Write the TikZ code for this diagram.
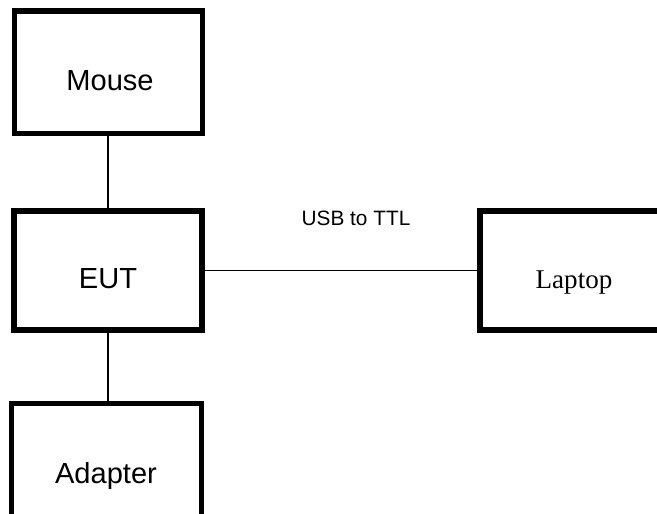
\documentclass[tikz,border=0pt]{standalone}
\usepackage{fontspec}
\setmainfont{Liberation Sans}
\newfontfamily\serifface{Liberation Serif}
\begin{document}
\begin{tikzpicture}[x=0.75pt,y=-0.75pt,
  box/.style={draw=black,line width=3.9pt,rectangle,inner sep=0pt,fill=white},
  conn/.style={draw=black,line width=1.1pt},
  lbl/.style={anchor=base,inner sep=0pt,font=\fontsize{21.8}{24}\selectfont}]
\useasboundingbox (0,0) rectangle (657,514);
\clip (0,0) rectangle (657,514);
\fill[white] (0,0) rectangle (657,514);
\node[box,minimum width=141pt,minimum height=91.9pt] (mouse) at (108.5,72.25) {};
\node[box,minimum width=141pt,minimum height=89.25pt] (eut) at (108,270.5) {};
\node[box,minimum width=142.5pt,minimum height=117.4pt] (adapter) at (106.5,481.75) {};
\node[box,minimum width=300pt,minimum height=89.25pt] (laptop) at (680,270.5) {};
\coordinate (m1) at (108,0);
\draw[conn] (mouse.south -| m1) -- (eut.north -| m1);
\draw[conn] (eut.south -| m1) -- (adapter.north -| m1);
\draw[conn] (eut.east) -- (laptop.west);
\node[lbl] (tmouse) at (110,90) {Mouse};
\node[lbl] (teut) at (108,288) {EUT};
\node[lbl] (tadapter) at (106,483) {Adapter};
\node[lbl,font=\serifface\fontsize{20.3}{24}\selectfont] (tlaptop) at (574,288) {Laptop};
\node[lbl,font=\fontsize{15.6}{18}\selectfont] (tusb) at (356,225) {USB to TTL};
\end{tikzpicture}
\end{document}
